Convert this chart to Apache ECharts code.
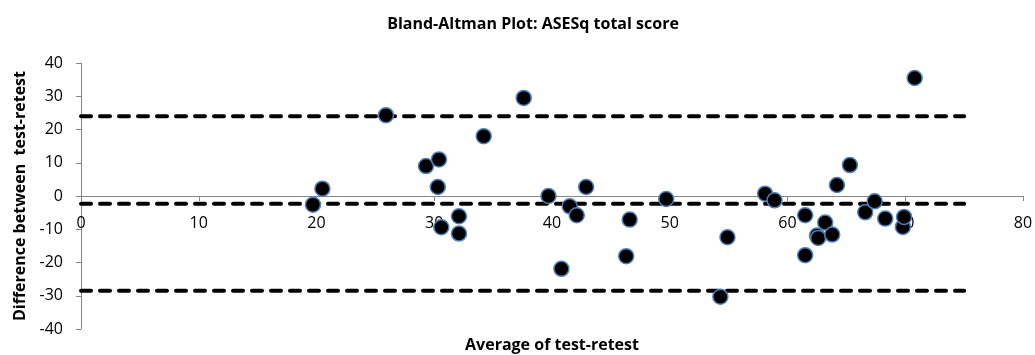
<!DOCTYPE html>
<html>
<head>
<meta charset="utf-8">
<script src="https://cdn.jsdelivr.net/npm/echarts@6/dist/echarts.min.js"></script>
<style>
html,body{margin:0;padding:0;background:#fff;}
#chart{width:1035px;height:355px;}
</style>
</head>
<body>
<div id="chart"></div>
<script>
const titleText = 'Bland-Altman Plot: ASESq total score';
const xAxisTitle = 'Average of test-retest';
const yAxisTitle = 'Difference between  test-retest';
const averages = [19.7, 20.5, 25.9, 29.3, 30.4, 30.3, 30.6, 32.1, 32.1, 34.2, 37.6, 39.7, 40.8, 41.5, 42.1, 42.9, 46.3, 46.6, 49.7, 54.3, 54.9, 58.1, 58.9, 61.5, 61.5, 62.5, 62.6, 63.2, 63.8, 64.2, 65.3, 66.6, 67.4, 68.3, 69.8, 69.9, 70.8];
const differences = [-2.6, 2.2, 24.3, 9.0, 11.0, 2.7, -9.4, -6.1, -11.3, 18.0, 29.5, 0, -21.9, -3.1, -5.8, 2.7, -18.1, -7.1, -0.9, -30.3, -12.4, 0.7, -1.3, -5.8, -17.8, -11.9, -12.6, -8.0, -11.6, 3.3, 9.3, -4.9, -1.6, -6.8, -9.3, -6.3, 35.5];
const lineRange = [0, 75];
const meanDiff = -2.3;
const upperLimit = 24.0;
const lowerLimit = -28.5;
const xTicks = {min: 0, max: 80, interval: 10};
const yTicks = {min: -40, max: 40, interval: 10};

const font = '"Open Sans", Lato, sans-serif';
const chart = echarts.init(document.getElementById('chart'), null, {renderer: 'canvas'});
const points = averages.map((a, i) => [a, differences[i]]);
const hline = v => lineRange.map(x => [x, v]);
const dashStyle = {color: '#000', width: 4, type: [10, 9], cap: 'round'};

chart.setOption({
  animation: false,
  backgroundColor: '#fff',
  title: {
    text: titleText,
    left: 528, top: 11, textAlign: 'center',
    textStyle: {fontFamily: font, fontSize: 16, fontWeight: 'bold', color: '#000'}
  },
  grid: {left: 81, right: 12, top: 63, bottom: 26, containLabel: false, outerBoundsMode: 'none'},
  xAxis: {
    type: 'value', min: xTicks.min, max: xTicks.max, interval: xTicks.interval,
    position: 'bottom', offset: -133,
    name: xAxisTitle, nameLocation: 'middle', nameGap: 141,
    nameTextStyle: {fontFamily: font, fontSize: 16, fontWeight: 'bold', color: '#000'},
    axisLine: {show: true, onZero: false, lineStyle: {color: '#868686', width: 1}},
    axisTick: {show: true, inside: false, length: 5, lineStyle: {color: '#868686'}},
    axisLabel: {fontFamily: font, fontSize: 16, color: '#000', margin: 19},
    splitLine: {show: false}
  },
  yAxis: {
    type: 'value', min: yTicks.min, max: yTicks.max, interval: yTicks.interval,
    name: yAxisTitle, nameLocation: 'middle', nameGap: 50,
    nameTextStyle: {fontFamily: font, fontSize: 16, fontWeight: 'bold', color: '#000'},
    axisLine: {show: true, onZero: false, lineStyle: {color: '#868686', width: 1}},
    axisTick: {show: true, inside: false, length: 5, lineStyle: {color: '#868686'}},
    axisLabel: {fontFamily: font, fontSize: 16, color: '#000', margin: 18},
    splitLine: {show: false}
  },
  series: [
    {type: 'line', data: hline(upperLimit), symbol: 'none', lineStyle: dashStyle, silent: true, z: 2},
    {type: 'line', data: hline(meanDiff), symbol: 'none', lineStyle: dashStyle, silent: true, z: 2},
    {type: 'line', data: hline(lowerLimit), symbol: 'none', lineStyle: dashStyle, silent: true, z: 2},
    {type: 'scatter', data: points, symbol: 'circle', symbolSize: 15, z: 3,
     itemStyle: {color: '#000', borderColor: '#4F81BD', borderWidth: 1.5, opacity: 1}}
  ]
});
</script>
</body>
</html>
